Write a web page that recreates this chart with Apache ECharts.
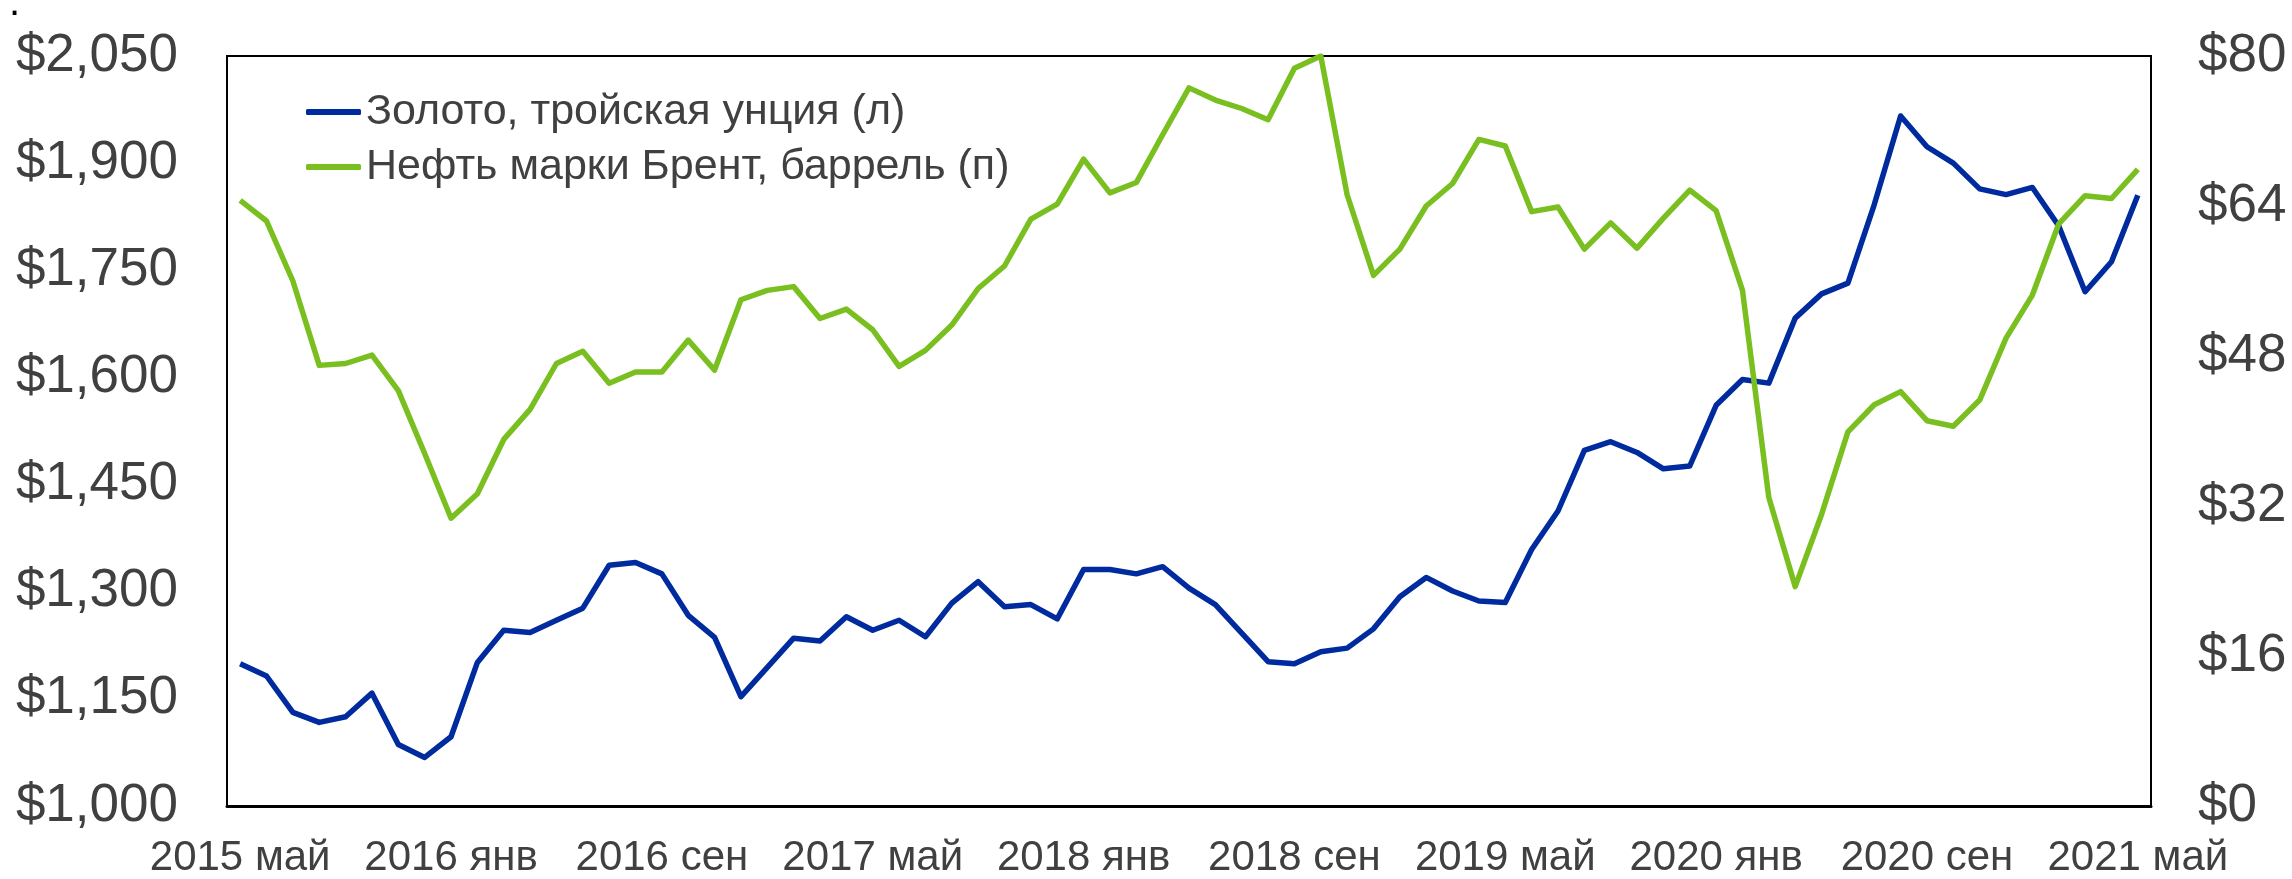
<!DOCTYPE html>
<html>
<head>
<meta charset="utf-8">
<script src="https://cdn.jsdelivr.net/npm/echarts@6/dist/echarts.min.js"></script>
<style>
  html, body { margin: 0; padding: 0; background: #fff; }
  #chart { width: 2292px; height: 879px; }
</style>
</head>
<body>
<div id="chart"></div>
<script>
// месяцы: 2015 май .. 2021 май
const categories = [
  '2015 май', '2015 июн', '2015 июл', '2015 авг', '2015 сен', '2015 окт', '2015 ноя', '2015 дек',
  '2016 янв', '2016 фев', '2016 мар', '2016 апр', '2016 май', '2016 июн', '2016 июл', '2016 авг',
  '2016 сен', '2016 окт', '2016 ноя', '2016 дек',
  '2017 янв', '2017 фев', '2017 мар', '2017 апр', '2017 май', '2017 июн', '2017 июл', '2017 авг',
  '2017 сен', '2017 окт', '2017 ноя', '2017 дек',
  '2018 янв', '2018 фев', '2018 мар', '2018 апр', '2018 май', '2018 июн', '2018 июл', '2018 авг',
  '2018 сен', '2018 окт', '2018 ноя', '2018 дек',
  '2019 янв', '2019 фев', '2019 мар', '2019 апр', '2019 май', '2019 июн', '2019 июл', '2019 авг',
  '2019 сен', '2019 окт', '2019 ноя', '2019 дек',
  '2020 янв', '2020 фев', '2020 мар', '2020 апр', '2020 май', '2020 июн', '2020 июл', '2020 авг',
  '2020 сен', '2020 окт', '2020 ноя', '2020 дек',
  '2021 янв', '2021 фев', '2021 мар', '2021 апр', '2021 май'
]

// золото, $ за тройскую унцию (левая ось)
const gold = [
  1199, 1182, 1131, 1117, 1125, 1158, 1086, 1068, 1097, 1201,
  1246, 1243, 1260, 1277, 1337, 1341, 1325, 1267, 1236, 1153,
  1194, 1235, 1231, 1265, 1246, 1260, 1237, 1284, 1314, 1279,
  1282, 1262, 1331, 1331, 1325, 1335, 1305, 1282, 1242, 1202,
  1199, 1216, 1221, 1248, 1293, 1320, 1301, 1287, 1285, 1359,
  1413, 1498, 1510, 1495, 1472, 1476, 1561, 1597, 1592, 1683,
  1717, 1732, 1842, 1966, 1923, 1900, 1864, 1856, 1866, 1812,
  1720, 1762, 1855
]

// нефть Брент, $ за баррель (правая ось)
const brent = [
  64.6, 62.4, 56.0, 47.0, 47.2, 48.1, 44.3, 37.6, 30.7, 33.3,
  39.1, 42.3, 47.2, 48.5, 45.1, 46.3, 46.3, 49.7, 46.5, 54.0,
  55.0, 55.4, 52.0, 53.0, 50.8, 46.9, 48.6, 51.3, 55.2, 57.6,
  62.6, 64.2, 69.0, 65.4, 66.5, 71.6, 76.6, 75.3, 74.4, 73.2,
  78.7, 80.0, 65.2, 56.6, 59.4, 64.0, 66.4, 71.1, 70.4, 63.4,
  63.9, 59.4, 62.2, 59.5, 62.7, 65.7, 63.5, 55.0, 32.9, 23.4,
  31.1, 39.9, 42.8, 44.2, 41.1, 40.5, 43.3, 49.9, 54.5, 62.1,
  65.1, 64.8, 67.9
]

const seriesNames = ['Золото, тройская унция (л)', 'Нефть марки Брент, баррель (п)']

const FONT = 'Liberation Sans, Arial, sans-serif'
const TEXT = '#404040'

function money(v) {
  return '$' + v.toLocaleString('en-US')
}

const chart = echarts.init(document.getElementById('chart'))
const option = {
  animation: false,
  textStyle: { fontFamily: FONT },
  graphic: [
    { type: 'text', left: 9, top: -16, style: { text: '.', fontSize: 40, fill: '#000', fontFamily: FONT } },
  ],
  legend: {
    orient: 'vertical',
    left: 306,
    top: 89,
    padding: 0,
    itemGap: 9,
    icon: 'roundRect',
    itemWidth: 55,
    itemHeight: 6,
    textStyle: { fontSize: 43, color: TEXT, lineHeight: 46, fontFamily: FONT },
    data: seriesNames,
  },
  grid: {
    left: 227,
    right: 141,
    top: 56,
    bottom: 70,
    show: true,
    borderColor: '#000',
    borderWidth: 2,
  },
  xAxis: [
    {
      type: 'category',
      data: categories,
      boundaryGap: true,
      axisLine: { lineStyle: { color: '#000', width: 3 } },
      axisTick: { interval: 3, length: 13, lineStyle: { color: '#000', width: 2 } },
      axisLabel: { interval: 7, fontSize: 42, color: TEXT, margin: 31, fontFamily: FONT },
      splitLine: { show: false },
    },
    {
      // внутренние засечки
      type: 'category',
      data: categories,
      position: 'bottom',
      boundaryGap: true,
      axisLine: { show: false },
      axisTick: { interval: 3, length: 10, inside: true, lineStyle: { color: '#000', width: 2 } },
      axisLabel: { show: false },
      splitLine: { show: false },
    },
  ],
  yAxis: [
    {
      type: 'value',
      min: 1000,
      max: 2050,
      interval: 150,
      axisLine: { show: true, lineStyle: { color: '#000', width: 2 } },
      axisTick: { show: false },
      splitLine: { show: false },
      axisLabel: { fontSize: 53, color: TEXT, margin: 49, formatter: money, fontFamily: FONT },
    },
    {
      type: 'value',
      min: 0,
      max: 80,
      interval: 16,
      position: 'right',
      axisLine: { show: true, lineStyle: { color: '#000', width: 2 } },
      axisTick: { show: false },
      splitLine: { show: false },
      axisLabel: { fontSize: 53, color: TEXT, margin: 47, formatter: money, fontFamily: FONT },
    },
  ],
  series: [
    {
      name: seriesNames[0],
      type: 'line',
      yAxisIndex: 0,
      data: gold,
      symbol: 'none',
      itemStyle: { color: '#002B9E' },
      lineStyle: { color: '#002B9E', width: 5.5, join: 'round' },
    },
    {
      name: seriesNames[1],
      type: 'line',
      yAxisIndex: 1,
      data: brent,
      symbol: 'none',
      itemStyle: { color: '#7ABF20' },
      lineStyle: { color: '#7ABF20', width: 5.5, join: 'round' },
    },
  ],
}
chart.setOption(option)
</script>
</body>
</html>
